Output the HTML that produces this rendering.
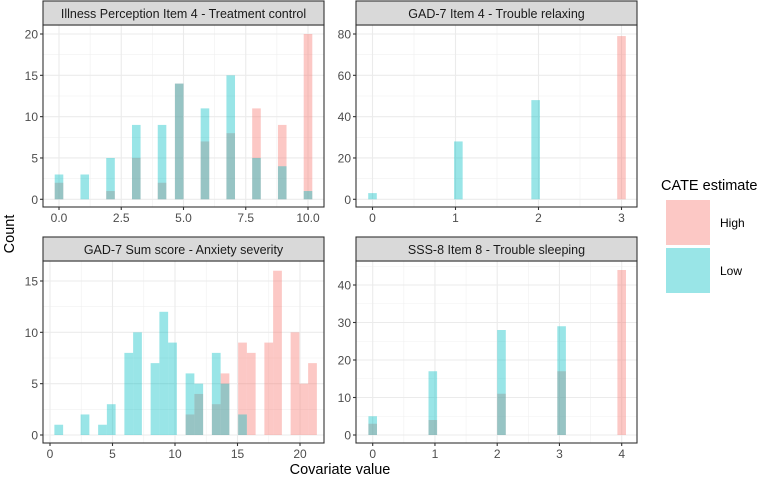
<!DOCTYPE html>
<html><head><meta charset="utf-8">
<style>
body{margin:0;background:#fff;}
svg{display:block;font-family:"Liberation Sans",sans-serif;}
</style></head>
<body>
<svg id="chart" width="774" height="480" viewBox="0 0 774 480" xmlns="http://www.w3.org/2000/svg"></svg>
<script>
// Panel 1: Illness Perception Item 4
const p1Values = [0,1,2,3,4,5,6,7,8,9,10];
const p1Low = [3,3,5,9,9,14,11,15,5,4,1];
const p1High = [2,0,1,5,2,14,7,8,11,9,20];
const p1XTicks = [0,2.5,5,7.5,10];
const p1XLabels = ["0.0","2.5","5.0","7.5","10.0"];
const p1YTicks = [0,5,10,15,20];
// Panel 2: GAD-7 Item 4
const p2Values = [0,1,2,3];
const p2Low = [3,28,48,0];
const p2High = [0,0,0,79];
const p2XTicks = [0,1,2,3];
const p2YTicks = [0,20,40,60,80];
// Panel 3: GAD-7 Sum score (bin centers)
const p3Values = [0.7,2.8,4.2,4.9,6.3,7.0,8.4,9.1,9.8,11.2,11.9,13.3,14.0,15.4,16.1,17.5,18.2,19.6,20.3,21.0];
const p3Low  = [1,2,1,3,8,10,7,12,9,6,5,8,5,2,0,0,0,0,0,0];
const p3High = [0,0,0,0,0,0,0,0,0,2,4,3,6,9,8,9,16,10,5,7];
const p3XTicks = [0,5,10,15,20];
const p3YTicks = [0,5,10,15];
// Panel 4: SSS-8 Item 8
const p4Values = [0,1,2,3,4];
const p4Low = [5,17,28,29,0];
const p4High = [3,4,11,17,44];
const p4XTicks = [0,1,2,3,4];
const p4YTicks = [0,10,20,30,40];

const NS="http://www.w3.org/2000/svg";
const svg=document.getElementById('chart');
function mk(tag,attrs,parent){const e=document.createElementNS(NS,tag);for(const k in attrs)e.setAttribute(k,attrs[k]);(parent||svg).appendChild(e);return e;}

const panels=[
 {name:'illness-perception',title:'Illness Perception Item 4 - Treatment control',x0:43,x1:324,y0:25,y1:207,sy:0,
  dx:[0,10],px:[59,308],dy:[0,20],py:[199.3,34],vals:p1Values,low:p1Low,high:p1High,xt:p1XTicks,xl:p1XLabels,yt:p1YTicks,bw:10/29,snap:true},
 {name:'gad7-item4',title:'GAD-7 Item 4 - Trouble relaxing',x0:356,x1:637,y0:25,y1:207,sy:0,
  dx:[0,3],px:[372.5,621.5],dy:[0,80],py:[199.3,34],vals:p2Values,low:p2Low,high:p2High,xt:p2XTicks,xl:null,yt:p2YTicks,bw:3/29,snap:true},
 {name:'gad7-sum',title:'GAD-7 Sum score - Anxiety severity',x0:43,x1:324,y0:261,y1:443,sy:236,
  dx:[0,20],px:[50,300],dy:[0,15],py:[435,281],vals:p3Values,low:p3Low,high:p3High,xt:p3XTicks,xl:null,yt:p3YTicks,bw:0.7,snap:false},
 {name:'sss8-item8',title:'SSS-8 Item 8 - Trouble sleeping',x0:356,x1:637,y0:261,y1:443,sy:236,
  dx:[0,4],px:[372.7,621.7],dy:[0,40],py:[435,285],vals:p4Values,low:p4Low,high:p4High,xt:p4XTicks,xl:null,yt:p4YTicks,bw:4/29,snap:true}
];

panels.forEach(p=>{
  const g=mk('g',{});
  
  
  const xs=v=>p.px[0]+(v-p.dx[0])*(p.px[1]-p.px[0])/(p.dx[1]-p.dx[0]);
  const ys=v=>p.py[0]+(v-p.dy[0])*(p.py[1]-p.py[0])/(p.dy[1]-p.dy[0]);
  mk('rect',{x:p.x0,y:p.y0,width:p.x1-p.x0,height:p.y1-p.y0,fill:'#fff'},g);
  // minor grid
  const yt=p.yt;
  for(let i=0;i<yt.length-1;i++){const m=(yt[i]+yt[i+1])/2;mk('line',{x1:p.x0,x2:p.x1,y1:ys(m),y2:ys(m),stroke:'#f0f0f0','stroke-width':0.6},g);}
  const last=yt[yt.length-1],step=yt[1]-yt[0];
  if(ys(last+step/2)>p.y0) mk('line',{x1:p.x0,x2:p.x1,y1:ys(last+step/2),y2:ys(last+step/2),stroke:'#f0f0f0','stroke-width':0.6},g);
  const xt=p.xt;
  for(let i=0;i<xt.length-1;i++){const m=(xt[i]+xt[i+1])/2;mk('line',{y1:p.y0,y2:p.y1,x1:xs(m),x2:xs(m),stroke:'#f0f0f0','stroke-width':0.6},g);}
  // major grid
  yt.forEach(v=>mk('line',{x1:p.x0,x2:p.x1,y1:ys(v),y2:ys(v),stroke:'#ebebeb','stroke-width':1.1},g));
  xt.forEach(v=>mk('line',{y1:p.y0,y2:p.y1,x1:xs(v),x2:xs(v),stroke:'#ebebeb','stroke-width':1.1},g));
  // bars
  const center=v=>p.snap?Math.round(v/p.bw)*p.bw:v;
  const bwpx=Math.abs(xs(p.bw)-xs(0));
  [['high',p.high,'#F8766D'],['low',p.low,'#00BFC4']].forEach(([nm,arr,col])=>{
    p.vals.forEach((v,i)=>{
      if(!arr[i])return;
      const c=xs(center(v));
      const r=mk('rect',{x:c-bwpx/2,y:ys(arr[i]),width:bwpx,height:ys(0)-ys(arr[i]),fill:col,'fill-opacity':0.4},g);
      
      
    });
  });
  mk('rect',{x:p.x0,y:p.y0,width:p.x1-p.x0,height:p.y1-p.y0,fill:'none',stroke:'#333','stroke-width':1.1},g);
  // strip
  const st=mk('rect',{x:p.x0,y:p.sy+1,width:p.x1-p.x0,height:p.y0-p.sy-1,fill:'#d9d9d9',stroke:'#333','stroke-width':1.1},g);
  
  
  const tt=mk('text',{x:(p.x0+p.x1)/2,y:p.sy+18,'text-anchor':'middle','font-size':12.5,fill:'#1a1a1a'},g);
  tt.textContent=p.title;
  
  
  // ticks
  yt.forEach(v=>{
    mk('line',{x1:p.x0-3,x2:p.x0,y1:ys(v),y2:ys(v),stroke:'#333','stroke-width':1.1},g);
    const t=mk('text',{x:p.x0-5,y:ys(v)+4.5,'text-anchor':'end','font-size':12,fill:'#4d4d4d'},g);
    t.textContent=v;
    
    
  });
  xt.forEach((v,i)=>{
    mk('line',{y1:p.y1,y2:p.y1+3,x1:xs(v),x2:xs(v),stroke:'#333','stroke-width':1.1},g);
    const t=mk('text',{x:xs(v),y:p.y1+15,'text-anchor':'middle','font-size':12,fill:'#4d4d4d'},g);
    t.textContent=p.xl?p.xl[i]:v;
    
    
  });
});

const yTitle=mk('text',{x:14,y:234,'text-anchor':'middle','font-size':14.5,fill:'#000',transform:'rotate(-90 14 234)'});
yTitle.textContent='Count';


const xTitle=mk('text',{x:340,y:474,'text-anchor':'middle','font-size':14.5,fill:'#000'});
xTitle.textContent='Covariate value';



const lg=mk('g',{});


const lt=mk('text',{x:661,y:190,'font-size':14.5,fill:'#000'},lg);
lt.textContent='CATE estimate';


[['High','#F8766D',200],['Low','#00BFC4',248]].forEach(([lab,col,y])=>{
  const r=mk('rect',{x:666,y:y,width:44,height:45,fill:col,'fill-opacity':0.4},lg);
  
  
  const t=mk('text',{x:720,y:y+27,'font-size':12,fill:'#000'},lg);
  t.textContent=lab;
  
  
});
</script>
</body></html>
